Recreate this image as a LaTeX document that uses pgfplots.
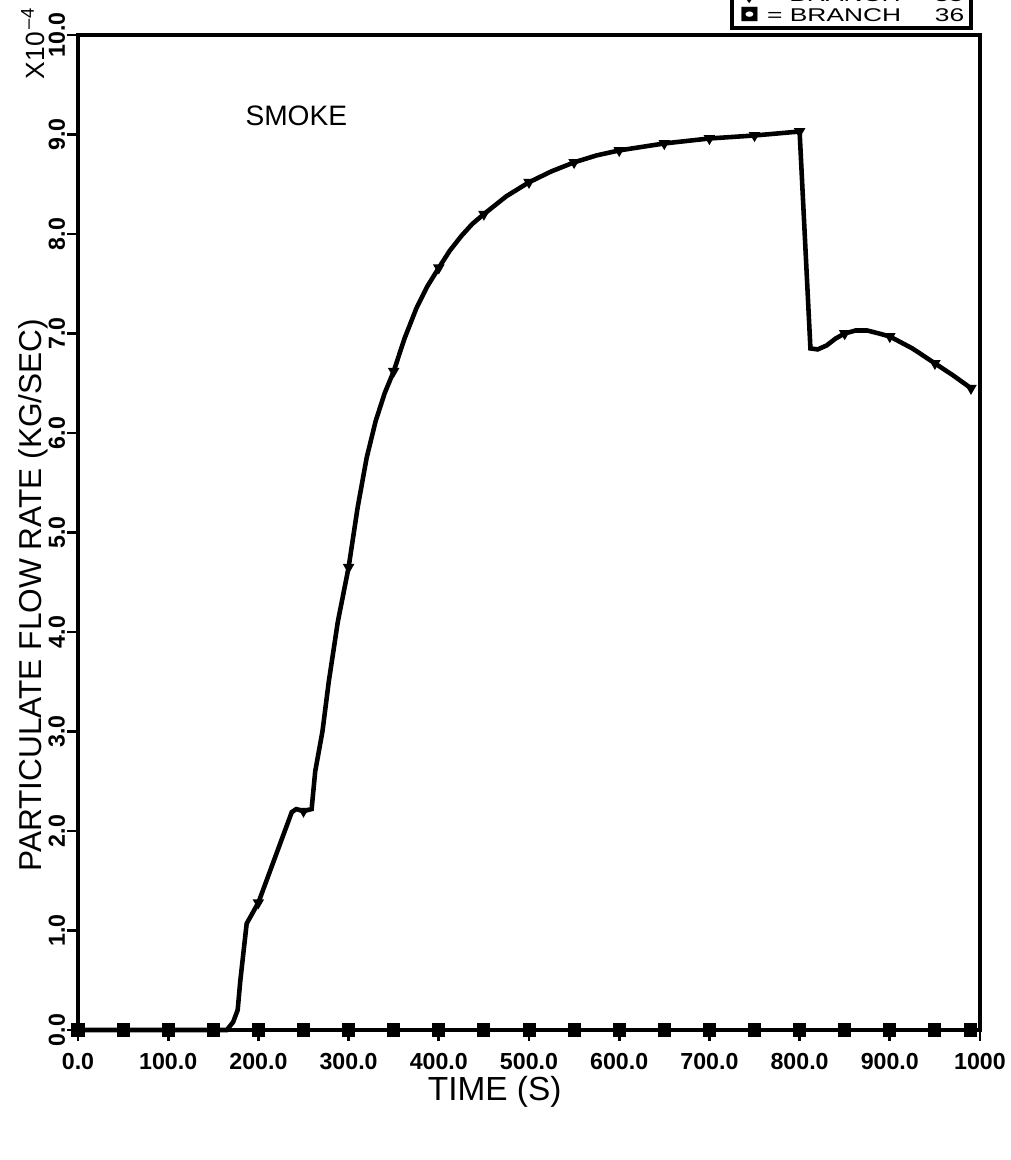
\documentclass[border=0pt]{standalone}
\usepackage{fontspec}
\setmainfont{Liberation Sans}
\newfontfamily\dejavu{DejaVu Sans}
\usepackage{pgfplots}
\pgfplotsset{compat=1.18}

\begin{document}
\begin{tikzpicture}
\useasboundingbox (-0.78cm,-1.30cm) rectangle (9.33cm,10.30cm);
\begin{axis}[
    at={(0,0)}, anchor=south west,
    width=9.02cm, height=9.95cm, scale only axis,
    xmin=0, xmax=1000, ymin=0, ymax=10,
    axis line style={line width=1.3pt},
    tick pos=left, tick align=outside,
    major tick length=3pt,
    every tick/.style={black, line width=0.8pt},
    xtick={0,100,...,1000},
    xticklabels={0.0,100.0,200.0,300.0,400.0,500.0,600.0,700.0,800.0,900.0,1000},
    ytick={0,1,...,10},
    yticklabels={0.0,1.0,2.0,3.0,4.0,5.0,6.0,7.0,8.0,9.0,10.0},
    ticklabel style={font=\fontsize{6.6}{8}\selectfont\bfseries},
    yticklabel style={rotate=90, anchor=south, inner sep=0.5pt},
    xlabel={TIME (S)},
    ylabel={PARTICULATE FLOW RATE (KG/SEC)},
    xlabel style={font=\fontsize{9.5}{10}\selectfont, at={(axis description cs:0.462,-0.062)}, anchor=center},
    ylabel style={font=\fontsize{9}{10}\selectfont, at={(axis description cs:-0.05,0.437)}, anchor=center},
    clip=false,
]
% branch 35, line
\addplot[black, line width=1.3pt] coordinates {
(0,0) (50,0) (100,0) (150,0) (165,0) (172,0.08) (177,0.2) (180,0.5) (187,1.07)
(200,1.28) (237,2.19) (242,2.22) (250,2.2) (259,2.22) (263,2.6) (271,3.0)
(278,3.5) (288,4.1) (300,4.65) (310,5.25) (320,5.75) (330,6.12) (340,6.4)
(350,6.62) (362,6.95) (375,7.25) (387,7.47) (400,7.66) (412,7.83) (425,7.98)
(437,8.1) (450,8.2) (475,8.38) (500,8.52) (525,8.63) (550,8.72) (575,8.79)
(600,8.84) (650,8.91) (700,8.96) (750,8.99) (800,9.03) (812,6.85) (820,6.84)
(830,6.88) (840,6.95) (850,7.0) (862,7.03) (875,7.03) (888,7.0) (900,6.97)
(925,6.85) (950,6.7) (970,6.58) (990,6.45)
};
% branch 35, markers
\addplot[black, only marks, mark=triangle*, mark size=1.5pt, mark options={rotate=180}] coordinates {
(0,0) (50,0) (100,0) (150,0) (200,1.28) (250,2.2) (300,4.65) (350,6.62)
(400,7.66) (450,8.2) (500,8.52) (550,8.72) (600,8.84) (650,8.91) (700,8.96)
(750,8.99) (800,9.03) (850,7.0) (900,6.97) (950,6.7) (990,6.45)
};
% branch 36
\addplot[black, line width=1.3pt, mark=square*, mark size=1.2pt] coordinates {
(0,0) (50,0) (100,0) (150,0) (200,0) (250,0) (300,0) (350,0) (400,0) (450,0)
(500,0) (550,0) (600,0) (650,0) (700,0) (750,0) (800,0) (850,0) (900,0)
(950,0) (990,0)
};
\node[font=\fontsize{8}{9}\selectfont] at (axis cs:242,9.19) {SMOKE};
\node[rotate=90, font=\fontsize{7.5}{9}\selectfont] at ([xshift=-0.45cm,yshift=-0.08cm]rel axis cs:0,1) {X10\textsuperscript{\,–4}};
\node[draw, line width=1pt, anchor=south east, align=left, inner sep=2pt,
      minimum width=2.38cm, font=\fontsize{7.5}{5.5}\selectfont]
  at ([xshift=-0.07cm,yshift=0.05cm]rel axis cs:1,1)
  {\scalebox{1}[0.7]{{\dejavu ▼} = BRANCH\quad\ 35}\\ \scalebox{1}[0.7]{{\dejavu ◘} = BRANCH\quad\ 36}};
\end{axis}
\end{tikzpicture}
\end{document}
